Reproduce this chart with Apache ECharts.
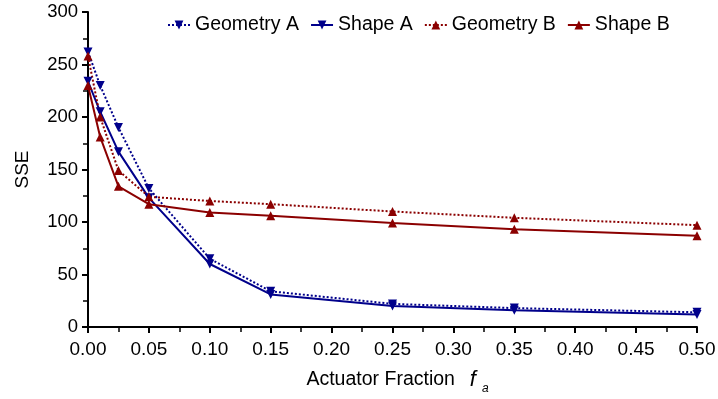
<!DOCTYPE html>
<html>
<head>
<meta charset="utf-8">
<script src="https://cdn.jsdelivr.net/npm/echarts@6/dist/echarts.min.js"></script>
<style>
  html, body { margin: 0; padding: 0; background: #fff; }
  #chart { width: 718px; height: 399px; }
</style>
</head>
<body>
<div id="chart"></div>
<script>
// Actuator fraction values sampled for each configuration
const fractions = [0, 0.01, 0.025, 0.05, 0.1, 0.15, 0.25, 0.35, 0.5];

// Sum of squared errors for each configuration
const geometryA = [262, 230, 190, 132, 65, 34, 22, 18, 14];
const shapeA    = [234, 205, 167, 123, 60, 31, 20, 16, 12];
const geometryB = [258, 200, 149, 124, 120, 117, 110, 104, 97];
const shapeB    = [230, 181, 134, 117, 109, 106, 99, 93, 87];

const seriesNames = ['Geometry A', 'Shape A', 'Geometry B', 'Shape B'];

const BLUE = '#00008b';
const RED = '#8b0000';
const FONT = 'Liberation Sans, Arial, sans-serif';

function pairs(ys) {
  return fractions.map((x, i) => [x, ys[i]]);
}

function makeSeries(name, ys, color, dotted, down) {
  return {
    name: name,
    type: 'line',
    data: pairs(ys),
    symbol: 'triangle',
    symbolRotate: down ? 180 : 0,
    symbolSize: 9,
    showAllSymbol: true,
    lineStyle: { color: color, width: 2, type: dotted ? [2, 2] : 'solid' },
    itemStyle: { color: color },
    emphasis: { disabled: true },
    animation: false
  };
}

const chart = echarts.init(document.getElementById('chart'));
chart.setOption({
  animation: false,
  grid: { left: 88, right: 21, top: 12, bottom: 72, containLabel: false, outerBoundsMode: 'none' },
  legend: {
    data: seriesNames,
    top: 15,
    left: 167,
    padding: 0,
    itemGap: 11,
    itemWidth: 22,
    itemHeight: 11,
    textStyle: { fontFamily: FONT, fontSize: 19.5, color: '#000', padding: [0, 0, 0, 0] }
  },
  xAxis: {
    type: 'value',
    min: 0,
    max: 0.5,
    interval: 0.05,
    name: 'Actuator Fraction  {f|f}{a|a}',
    nameLocation: 'middle',
    nameGap: 38,
    nameTextStyle: {
      fontFamily: FONT, fontSize: 19.5, color: '#000',
      padding: [0, 0, 0, 10],
      rich: {
        f: { fontFamily: FONT, fontSize: 22, fontStyle: 'italic', color: '#000', padding: [0, 6, 0, 4] },
        a: { fontFamily: FONT, fontSize: 12, fontStyle: 'italic', color: '#000', padding: [18, 0, 0, 0] }
      }
    },
    axisLine: { show: true, lineStyle: { color: '#000', width: 2 } },
    axisTick: { show: true, length: 6, lineStyle: { color: '#000', width: 2 } },
    minorTick: { show: true, splitNumber: 2, length: 5, lineStyle: { color: '#000', width: 1.5 } },
    axisLabel: {
      fontFamily: FONT, fontSize: 19, color: '#000', margin: 13,
      formatter: v => v.toFixed(2)
    },
    splitLine: { show: false }
  },
  yAxis: {
    type: 'value',
    min: 0,
    max: 300,
    interval: 50,
    name: 'SSE',
    nameLocation: 'middle',
    nameGap: 56,
    nameTextStyle: { fontFamily: FONT, fontSize: 19, color: '#000' },
    axisLine: { show: true, lineStyle: { color: '#000', width: 2 } },
    axisTick: { show: true, length: 6, lineStyle: { color: '#000', width: 2 } },
    minorTick: { show: true, splitNumber: 2, length: 5, lineStyle: { color: '#000', width: 1.5 } },
    axisLabel: { fontFamily: FONT, fontSize: 18.5, color: '#000', margin: 10 },
    splitLine: { show: false }
  },
  series: [
    makeSeries('Geometry A', geometryA, BLUE, true, true),
    makeSeries('Shape A', shapeA, BLUE, false, true),
    makeSeries('Geometry B', geometryB, RED, true, false),
    makeSeries('Shape B', shapeB, RED, false, false)
  ]
});
</script>
</body>
</html>
